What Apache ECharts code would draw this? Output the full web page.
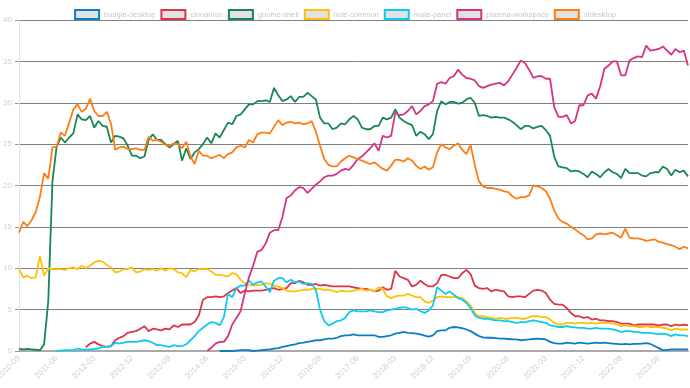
<!DOCTYPE html>
<html><head><meta charset="utf-8">
<script src="https://cdn.jsdelivr.net/npm/echarts@6/dist/echarts.min.js"></script>
<style>html,body{margin:0;padding:0;background:#fff}#c{width:690px;height:388px}</style>
</head><body><div id="c"></div>
<script>
const startYear = 2010, startMonth = 9, monthCount = 161;
const months = [];
for (let k = 0; k < monthCount; k++) {
  const t = startMonth - 1 + k;
  const y = startYear + Math.floor(t / 12), m = t % 12 + 1;
  months.push(y + '-' + (m < 10 ? '0' + m : m));
}
const seriesNames = ['budgie-desktop','cinnamon','gnome-shell','lxde-common','mate-panel','plasma-workspace','xfdesktop'];
const yTicks = [0,5,10,15,20,25,30,35,40];
const N = null;
const budgie = [N,N,N,N,N,N,N,N,N,N, N,N,N,N,N,N,N,N,N,N, N,N,N,N,N,N,N,N,N,N, N,N,N,N,N,N,N,N,N,N,
 N,N,N,N,N,N,N,N,0.0,0.0,
 0.0,0.0,0.05,0.1,0.1,0.1,0.0,0.05,0.1,0.15,
 0.2,0.3,0.35,0.5,0.6,0.7,0.8,0.95,1.0,1.1,
 1.2,1.3,1.3,1.4,1.5,1.5,1.6,1.8,1.9,1.9,
 2.0,1.9,1.9,1.9,1.9,1.9,1.7,1.7,1.8,1.9,
 2.1,2.2,2.3,2.2,2.15,2.1,2.0,1.85,1.75,1.9,
 2.4,2.5,2.5,2.8,2.9,2.85,2.75,2.6,2.4,2.1,
 1.8,1.65,1.6,1.6,1.55,1.5,1.5,1.45,1.4,1.4,
 1.3,1.35,1.4,1.45,1.5,1.45,1.4,1.1,0.95,0.9,
 0.9,1.0,0.95,0.9,1.0,0.95,0.9,0.95,1.0,0.95,
 1.0,0.95,0.9,0.85,0.8,0.85,0.8,0.85,0.85,0.9,
 0.95,0.85,0.6,0.35,0.1,0.1,0.2,0.2,0.2,0.2,0.2];
const cinnamon = [N,N,N,N,N,N,N,N,N,N,
 N,N,N,N,N,N,0.45,0.9,1.1,0.8,
 0.6,0.5,0.6,1.3,1.6,1.8,2.2,2.3,2.4,2.7,
 3.0,2.4,2.7,2.6,2.5,2.7,2.6,3.1,2.9,3.2,
 3.2,3.2,3.5,4.3,6.2,6.5,6.5,6.6,6.5,6.6,
 7.0,7.3,7.6,7.0,7.3,7.2,7.3,7.3,7.3,7.4,
 7.5,7.6,7.4,7.5,7.6,8.2,8.2,8.5,8.3,8.0,
 8.0,8.1,7.9,8.0,7.9,7.8,7.8,7.8,7.8,7.8,
 7.7,7.6,7.5,7.5,7.4,7.2,7.3,7.7,7.4,7.5,
 9.7,9.0,8.8,8.6,7.8,8.0,8.5,8.1,7.8,7.8,
 8.2,9.2,9.2,9.0,8.8,8.8,9.4,9.8,9.3,7.9,
 7.6,7.5,7.6,7.2,7.4,7.3,7.2,6.6,6.5,6.6,
 6.6,6.5,6.9,7.3,7.4,7.3,7.0,6.2,5.7,5.6,
 5.6,5.2,4.6,4.2,4.2,4.0,4.1,3.8,3.9,3.7,
 3.7,3.6,3.6,3.5,3.3,3.3,3.3,3.1,3.2,3.2,
 3.2,3.2,3.2,3.1,3.2,3.2,3.0,3.2,3.1,3.2,3.1];
const gnome = [0.3,0.2,0.25,0.2,0.15,0.1,0.8,6.0,20.5,24.7,
 25.8,25.2,25.8,26.3,28.6,28.0,27.9,28.4,27.0,27.8,
 27.2,27.1,25.2,26.0,25.9,25.7,24.8,23.6,23.6,23.3,
 23.5,25.5,26.2,25.5,25.5,25.0,24.6,25.0,25.4,23.0,
 24.5,23.2,24.0,24.4,25.0,25.8,25.1,26.3,25.8,26.7,
 27.6,27.4,28.4,28.6,29.2,29.8,29.8,30.2,30.2,30.3,
 30.1,31.8,30.9,30.2,30.4,30.8,30.1,30.7,30.7,31.2,
 30.8,30.4,28.2,27.5,27.5,26.8,27.0,27.5,27.4,28.0,
 28.4,28.0,27.0,26.8,26.8,27.2,27.2,28.2,28.0,28.2,
 29.2,28.2,27.8,27.5,27.3,26.0,26.5,26.2,25.6,26.2,
 29.0,30.2,29.8,30.1,30.1,29.9,30.0,30.4,30.6,30.0,
 28.4,28.5,28.4,28.2,28.3,28.2,28.2,28.0,27.7,27.3,
 26.8,27.2,27.2,26.9,27.1,27.2,26.7,26.0,23.5,22.3,
 22.2,22.1,21.7,21.8,21.7,21.4,21.0,21.7,21.4,21.0,
 21.6,22.0,21.6,21.4,20.9,22.0,21.5,21.5,21.5,21.2,
 21.1,21.5,21.6,21.6,22.3,22.0,21.2,21.9,21.6,21.8,21.1];
const lxde = [9.9,8.9,9.1,8.8,8.9,11.5,9.1,10.0,9.9,9.9,
 9.9,9.8,10.0,10.1,9.9,10.3,10.0,10.3,10.7,10.9,
 10.8,10.4,10.1,9.5,9.6,9.9,9.9,10.1,9.5,9.6,
 9.9,9.8,9.9,9.7,10.0,9.7,10.0,9.9,9.5,9.4,
 8.9,9.8,9.6,9.9,9.9,9.9,9.6,9.2,9.2,9.1,
 9.0,9.4,9.3,8.6,8.2,8.0,7.9,8.0,8.0,8.2,
 8.1,7.9,7.8,7.6,7.3,7.2,7.2,7.3,7.4,7.4,
 7.5,7.5,7.5,7.4,7.4,7.3,7.1,7.3,7.2,7.2,
 7.3,7.4,7.5,7.3,7.4,7.2,7.7,7.5,6.6,6.4,
 6.6,6.7,6.7,6.9,6.7,6.5,6.5,6.0,5.8,6.1,
 6.5,6.6,6.5,6.5,6.5,6.5,6.4,6.0,5.5,4.6,
 4.2,4.2,4.1,4.0,3.9,4.0,3.9,3.9,4.0,4.0,
 3.9,3.9,4.1,4.2,4.2,4.1,4.1,3.8,3.4,3.2,
 3.2,3.4,3.4,3.3,3.4,3.4,3.3,3.4,3.3,3.4,
 3.4,3.4,3.3,3.2,3.0,3.1,3.0,3.0,2.9,2.9,
 3.0,2.9,2.9,2.9,2.8,2.7,2.5,2.7,2.6,2.6,2.6];
const mate = [N,N,N,N,N,N,N,N,N,0.05,
 0.05,0.1,0.1,0.1,0.3,0.2,0.15,0.2,0.25,0.3,
 0.5,0.5,0.6,1.0,0.9,1.0,1.1,1.1,1.1,1.2,
 1.3,1.2,1.0,0.7,0.7,0.6,0.5,0.7,0.6,0.6,
 0.8,1.3,1.8,2.4,2.8,3.2,3.5,3.4,3.1,4.1,
 6.9,6.5,7.6,7.9,7.9,8.5,8.0,8.3,8.4,7.8,
 7.1,8.5,8.8,8.8,8.3,8.6,8.3,8.4,8.1,8.2,
 8.1,7.4,5.0,3.6,3.1,3.3,3.6,3.7,4.0,4.7,
 4.9,4.8,4.8,4.8,4.9,4.8,4.7,4.7,4.9,5.0,
 5.1,5.2,5.3,5.2,5.0,5.1,4.8,4.6,4.9,5.5,
 7.7,7.3,6.9,7.2,6.8,6.4,6.2,5.8,5.2,4.3,
 4.0,3.9,3.9,3.8,3.7,3.7,3.6,3.6,3.5,3.4,
 3.5,3.5,3.6,3.7,3.6,3.5,3.4,3.1,3.0,2.9,
 2.9,3.0,2.9,2.85,2.8,2.8,2.7,2.7,2.8,2.7,
 2.7,2.7,2.6,2.5,2.3,2.4,2.4,2.3,2.3,2.2,
 2.2,2.2,2.1,2.05,2.1,2.0,1.8,2.0,1.9,1.9,1.8];
const plasma = [N,N,N,N,N,N,N,N,N,N, N,N,N,N,N,N,N,N,N,N, N,N,N,N,N,N,N,N,N,N, N,N,N,N,N,N,N,N,N,N,
 N,N,N,N,N,0.0,0.4,0.9,1.1,1.1,
 1.8,3.2,4.0,4.8,7.0,8.9,10.3,12.0,12.2,13.0,
 14.3,14.6,14.6,16.2,18.5,18.8,19.4,19.8,19.7,19.1,
 19.6,20.1,20.5,21.0,21.2,21.2,21.4,21.8,22.0,21.9,
 22.5,23.2,23.5,24.0,24.5,25.1,24.2,26.0,25.8,26.0,
 28.8,28.5,28.6,29.0,29.6,28.6,29.0,29.6,29.8,30.2,
 32.3,32.5,32.3,33.0,33.2,34.0,33.4,33.0,32.9,32.7,
 32.0,31.8,32.0,32.2,32.3,32.4,32.1,32.6,33.4,34.2,
 35.1,34.8,34.0,33.0,33.2,33.2,32.9,32.9,29.5,28.3,
 28.3,28.5,27.5,27.8,29.7,29.7,30.9,31.1,30.5,32.0,
 34.1,34.5,35.0,35.0,33.3,33.3,35.1,35.4,35.6,35.5,
 36.9,36.3,36.4,36.5,36.8,36.3,35.8,36.5,36.1,36.3,34.5];
const xfdesktop = [14.3,15.6,15.1,15.8,16.8,18.6,21.5,20.8,24.6,24.7,
 26.4,26.0,27.6,29.2,29.8,28.9,29.3,30.5,29.0,28.4,
 28.4,28.9,27.5,24.3,24.6,24.7,24.4,24.4,24.5,24.3,
 24.3,25.9,25.4,25.5,25.3,24.9,24.8,25.1,25.0,24.5,
 25.3,23.5,22.6,24.2,23.6,23.6,23.3,23.5,23.7,23.3,
 23.8,24.0,24.6,24.8,24.6,25.5,25.2,26.2,26.4,26.4,
 26.3,27.1,27.9,27.3,27.6,27.7,27.5,27.6,27.4,27.5,
 27.8,26.5,24.8,23.2,22.5,22.3,22.3,22.9,23.3,23.6,
 23.4,23.2,23.0,22.8,22.6,22.8,22.4,22.0,21.8,22.4,
 23.1,23.1,22.9,23.3,23.0,22.4,22.0,22.3,21.9,22.2,
 24.0,25.0,24.6,24.4,24.8,25.1,24.3,23.8,24.9,22.5,
 20.5,19.9,19.7,19.7,19.6,19.5,19.3,19.2,18.7,18.4,
 18.6,18.6,18.8,20.0,19.9,19.7,19.3,18.4,17.0,16.0,
 15.6,15.4,15.0,14.7,14.3,14.0,13.5,13.6,14.1,14.2,
 14.1,14.2,14.3,14.0,13.7,14.8,13.7,13.6,13.6,13.5,
 13.3,13.4,13.5,13.2,13.1,12.9,12.8,12.6,12.3,12.6,12.4];
const seriesData = [budgie, cinnamon, gnome, lxde, mate, plasma, xfdesktop];
const colors = ['#0b7fc6','#dc3545','#198754','#ffc107','#0dcaf0','#d63384','#fd7e14'];

const chart = echarts.init(document.getElementById('c'));
const font = 'Liberation Sans, Arial, sans-serif';
chart.setOption({
  animation: false,
  color: colors,
  legend: {
    top: 4, left: 'center', icon: 'rect', itemWidth: 24, itemHeight: 9, itemGap: 5,
    textStyle: { color: '#c8c8c8', fontSize: 7.5, fontFamily: font },
    itemStyle: { color: '#e2e2e2', borderWidth: 2 },
    data: seriesNames.map((n, i) => ({ name: n, itemStyle: { borderColor: colors[i] } }))
  },
  grid: { left: 19, right: 2, top: 20, bottom: 37, containLabel: false, outerBoundsMode: 'none' },
  xAxis: {
    type: 'category', data: months, boundaryGap: false,
    axisLine: { lineStyle: { color: '#aaa', width: 2 } },
    axisTick: { show: false },
    axisLabel: { interval: 8, rotate: 45, color: '#cfcfcf', fontSize: 8, fontFamily: font, margin: 6 },
    splitLine: { show: false }
  },
  yAxis: {
    type: 'value', min: yTicks[0], max: yTicks[yTicks.length - 1], interval: 5,
    axisLine: { show: true, lineStyle: { color: '#e4e4e4' } },
    axisTick: { show: true, length: 4, lineStyle: { color: '#999' } },
    axisLabel: { color: '#cfcfcf', fontSize: 8, fontFamily: font, margin: 7 },
    splitLine: { lineStyle: { color: '#808080', width: 1 } }
  },
  series: seriesNames.map((n, i) => ({
    name: n, type: 'line', data: seriesData[i], showSymbol: false, symbol: 'none',
    lineStyle: { width: 1.8, color: colors[i] }, itemStyle: { color: colors[i] }
  }))
});
</script></body></html>
